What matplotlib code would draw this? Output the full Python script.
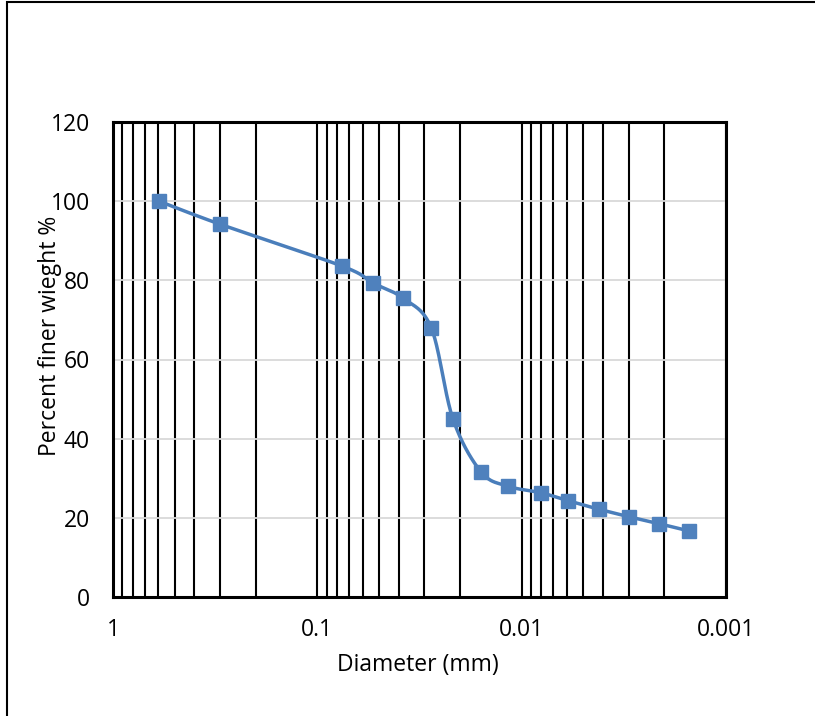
import numpy as np
import matplotlib
matplotlib.use("Agg")
import matplotlib.pyplot as plt
from matplotlib.patches import Rectangle

plt.rcParams['font.family'] = ['Open Sans', 'DejaVu Sans']

# Data
diameter_mm = [0.595, 0.30, 0.0757, 0.0533, 0.0381, 0.0277, 0.0217, 0.0158,
               0.0117, 0.0080, 0.0059, 0.0042, 0.0030, 0.00212, 0.00152]
percent_finer = [100.0, 94.2, 83.6, 79.3, 75.5, 68.0, 45.0, 31.6,
                 28.0, 26.3, 24.3, 22.2, 20.3, 18.5, 16.7]
x_ticks = [1, 0.1, 0.01, 0.001]
x_tick_labels = ["1", "0.1", "0.01", "0.001"]
y_ticks = [0, 20, 40, 60, 80, 100, 120]

W, H, DPI = 815, 716, 100
FS = 16.5
fig = plt.figure(figsize=(W / DPI, H / DPI), dpi=DPI)
fig.patch.set_facecolor('white')

# outer chart border
fig.add_artist(Rectangle((7 / W, -0.05), 1.2, 1 - 2 / H + 0.05,
                         transform=fig.transFigure, fill=False,
                         edgecolor='black', linewidth=1.5))

left, right, top, bottom = 113, 726, 122, 597
ax = fig.add_axes([left / W, 1 - bottom / H, (right - left) / W, (bottom - top) / H])

ax.set_xscale('log')
ax.set_xlim(1, 0.001)
ax.set_ylim(0, 120)

# Excel-like smoothed line (Bezier through points in display-like space)
lx = -np.log10(np.array(diameter_mm)) * 204.0
py = np.array(percent_finer) * 3.967
P = np.column_stack([lx, py])
n = len(P)
curve = []
for i in range(n - 1):
    p0 = P[i - 1] if i > 0 else P[i]
    p1 = P[i]
    p2 = P[i + 1]
    p3 = P[i + 2] if i + 2 < n else P[i + 1]
    c1 = p1 + (p2 - p0) / 6.0
    c2 = p2 - (p3 - p1) / 6.0
    t = np.linspace(0, 1, 40)[:, None]
    seg = ((1 - t) ** 3) * p1 + 3 * ((1 - t) ** 2) * t * c1 + 3 * (1 - t) * t ** 2 * c2 + t ** 3 * p2
    curve.append(seg if i == 0 else seg[1:])
curve = np.vstack(curve)
cx = 10 ** (-curve[:, 0] / 204.0)
cy = curve[:, 1] / 3.967

ax.plot(cx, cy, color='#4A7EBB', linewidth=2.5, zorder=4, solid_capstyle='round')
ax.plot(diameter_mm, percent_finer, linestyle='none', marker='s', markersize=10,
        markerfacecolor='#4F81BD', markeredgecolor='#4F81BD', zorder=5)

# grids
ax.set_yticks(y_ticks)
ax.yaxis.grid(True, color='#D9D9D9', linewidth=1.3, zorder=1)
ax.xaxis.grid(True, which='both', color='black', linewidth=1.5, zorder=2)
ax.set_axisbelow(True)

ax.set_xticks(x_ticks)
ax.set_xticklabels(x_tick_labels)
ax.xaxis.set_minor_formatter(matplotlib.ticker.NullFormatter())
ax.tick_params(axis='both', which='both', length=0, labelsize=FS, colors='#000000')
ax.tick_params(axis='x', pad=15)
ax.tick_params(axis='y', pad=16.5)

for s in ax.spines.values():
    s.set_color('black')
    s.set_linewidth(2.2)
    s.set_zorder(6)

fig.text(418 / W, 1 - 665 / H, 'Diameter (mm)', fontsize=FS, ha='center', va='center')
fig.text(50 / W, 1 - 336 / H, 'Percent finer wieght %', fontsize=FS, ha='center',
         va='center', rotation=90)

fig.savefig('out.png', dpi=DPI, facecolor='white')
